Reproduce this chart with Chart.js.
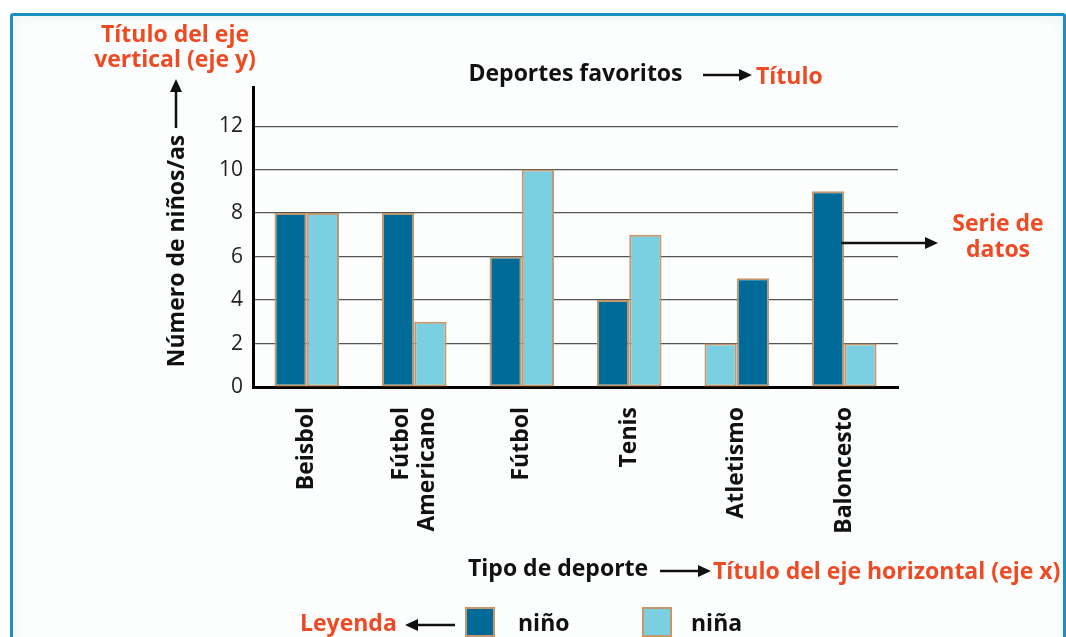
<!DOCTYPE html>
<html>
<head>
<meta charset="utf-8">
<script src="https://cdn.jsdelivr.net/npm/chart.js@4/dist/chart.umd.min.js"></script>
<style>
  html, body { margin: 0; padding: 0; background: #fff; }
  #wrap { position: relative; width: 1066px; height: 637px; overflow: hidden; }
  #frame {
    position: absolute; left: 10px; top: 13px; width: 1050px; height: 660px;
    border: 3px solid #1a90c2; border-radius: 3px;
    background: #fcfdfd; box-shadow: inset 0 0 14px rgba(0,0,0,0.06);
  }
  #chart { position: absolute; left: 0; top: 0; }
</style>
</head>
<body>
<div id="wrap">
  <div id="frame"></div>
  <canvas id="chart" width="1066" height="637"></canvas>
</div>
<script>
// Deportes favoritos - data
const categories = ['Beisbol', ['Fútbol', 'Americano'], 'Fútbol', 'Tenis', 'Atletismo', 'Baloncesto'];
const ninos = [8, 8, 6, 4, 5, 9];
const ninas = [8, 3, 10, 7, 2, 2];
// in Atletismo the niña bar sits on the left
const ninaFirst = [false, false, false, false, true, false];
const seriesNames = ['niño', 'niña'];
const yTicks = [0, 2, 4, 6, 8, 10, 12];

const DARK = '#006a99';
const LIGHT = '#7acfe0';
const EDGE = '#c6966c';
const RED = '#ee4a24';
const FONT = '"Open Sans", sans-serif';

const leftVals = ninos.map((v, i) => ninaFirst[i] ? ninas[i] : v);
const rightVals = ninas.map((v, i) => ninaFirst[i] ? ninos[i] : v);
const leftCols = ninaFirst.map(f => f ? LIGHT : DARK);
const rightCols = ninaFirst.map(f => f ? DARK : LIGHT);

// category axis that centres multi-line rotated labels on their tick
class CenteredCategory extends Chart.CategoryScale {
    _computeLabelItems(chartArea) {
        const items = super._computeLabelItems(chartArea);
        items.forEach(it => {
            if (Array.isArray(it.label) && it.label.length > 1) {
                it.textOffset -= (it.label.length - 1) * it.font.lineHeight / 2;
            }
        });
        return items;
    }
}
CenteredCategory.id = 'centeredCategory';
CenteredCategory.defaults = Chart.CategoryScale.defaults;
Chart.register(CenteredCategory);

function arrow(ctx, x1, y1, x2, y2) {
    const a = Math.atan2(y2 - y1, x2 - x1);
    const len = 13, w = 6;
    ctx.save();
    ctx.strokeStyle = '#111';
    ctx.fillStyle = '#111';
    ctx.lineWidth = 2.5;
    ctx.beginPath();
    ctx.moveTo(x1, y1);
    ctx.lineTo(x2 - Math.cos(a) * len * 0.8, y2 - Math.sin(a) * len * 0.8);
    ctx.stroke();
    ctx.translate(x2, y2);
    ctx.rotate(a);
    ctx.beginPath();
    ctx.moveTo(0, 0);
    ctx.lineTo(-len, -w);
    ctx.lineTo(-len, w);
    ctx.closePath();
    ctx.fill();
    ctx.restore();
}

function txt(ctx, s, x, y, color, align) {
    ctx.fillStyle = color;
    ctx.textAlign = align || 'center';
    ctx.fillText(s, x, y);
}

const notes = {
    id: 'notes',
    afterDraw(chart) {
        const ctx = chart.ctx;
        const area = chart.chartArea;
        ctx.save();
        ctx.font = 'bold 23px ' + FONT;
        ctx.textBaseline = 'middle';

        // y-axis title + callout
        txt(ctx, 'Título del eje', 175, 35, RED);
        txt(ctx, 'vertical (eje y)', 175, 60, RED);
        arrow(ctx, 176, 128, 176, 79);
        ctx.save();
        ctx.translate(177, 251);
        ctx.rotate(-Math.PI / 2);
        txt(ctx, 'Número de niños/as', 0, 0, '#111');
        ctx.restore();

        // chart title
        txt(ctx, 'Deportes favoritos', (area.left + area.right) / 2, 74, '#111');
        arrow(ctx, 703, 75, 752, 75);
        txt(ctx, 'Título', 756, 77, RED, 'left');

        // data series callout
        txt(ctx, 'Serie de', 998, 224, RED);
        txt(ctx, 'datos', 998, 250, RED);
        arrow(ctx, 841, 243, 938, 243);

        // x-axis title
        txt(ctx, 'Tipo de deporte', 468, 569, '#111', 'left');
        arrow(ctx, 660, 571, 711, 571);
        txt(ctx, 'Título del eje horizontal (eje x)', 713, 572, RED, 'left');

        // legend
        txt(ctx, 'Leyenda', 300, 624, RED, 'left');
        arrow(ctx, 455, 625, 405, 625);
        const boxes = [[466, DARK, 518], [643, LIGHT, 691]];
        boxes.forEach((b, i) => {
            ctx.fillStyle = b[1];
            ctx.fillRect(b[0], 608, 28, 28);
            ctx.strokeStyle = EDGE;
            ctx.lineWidth = 2;
            ctx.strokeRect(b[0], 608, 28, 28);
            txt(ctx, seriesNames[i], b[2], 624, '#111', 'left');
        });
        ctx.restore();
    }
};

new Chart(document.getElementById('chart'), {
    type: 'bar',
    data: {
        labels: categories,
        datasets: [
            { label: 'izquierda', data: leftVals, backgroundColor: leftCols, borderColor: EDGE, borderWidth: 2, borderSkipped: false },
            { label: 'derecha', data: rightVals, backgroundColor: rightCols, borderColor: EDGE, borderWidth: 2, borderSkipped: false }
        ]
    },
    options: {
        responsive: false,
        animation: false,
        events: [],
        layout: { padding: { top: 87, right: 168, bottom: 0, left: 0 } },
        datasets: { bar: { categoryPercentage: 0.6, barPercentage: 1 } },
        plugins: { legend: { display: false }, title: { display: false }, tooltip: { enabled: false } },
        scales: {
            x: {
                type: 'centeredCategory',
                afterFit: s => { s.height = 250; },
                grid: { display: false, drawTicks: false },
                border: { color: '#000', width: 3 },
                ticks: {
                    minRotation: 90, maxRotation: 90, autoSkip: false, padding: 20,
                    color: '#111', font: { family: FONT, size: 23, weight: 'bold', lineHeight: 1.15 }
                }
            },
            y: {
                min: 0, max: 13.8,
                afterFit: s => { s.width = 253; },
                afterBuildTicks: s => { s.ticks = yTicks.map(v => ({ value: v })); },
                grid: { color: '#555', lineWidth: 1.2, drawTicks: false },
                border: { color: '#000', width: 3 },
                ticks: { padding: 10, color: '#222', font: { family: FONT, size: 21 } }
            }
        }
    },
    plugins: [notes]
});
</script>
</body>
</html>
